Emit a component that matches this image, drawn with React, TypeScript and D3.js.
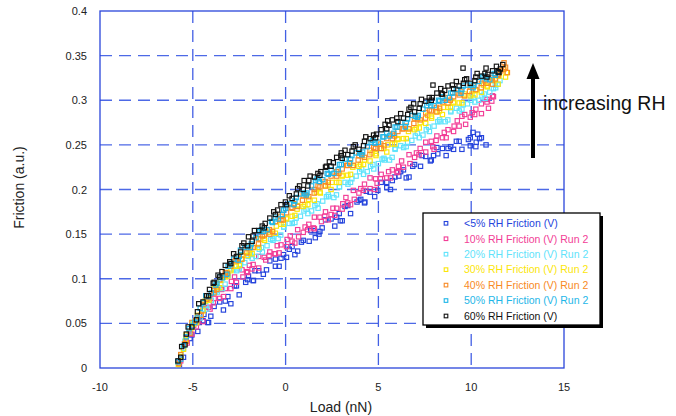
import React from 'react';
import * as d3 from 'd3';

// friction vs load, one array per humidity run: [load (nN), friction (a.u.)]
const rh05: number[][] = [
  [-5.72, .004], [-5.5, .012], [-5.15, .033], [-4.73, .041], [-4.65, .051], [-4.2, .051], [-4.03, .058], [-3.55, .074],
  [-3.35, .065], [-3.11, .080], [-2.65, .092], [-2.5, .082], [-2.15, .096], [-1.73, .098], [-1.65, .109], [-1.2, .105],
  [-1.03, .110], [-0.55, .122], [-0.35, .114], [-0.11, .127], [0.35, .136], [0.5, .127], [0.85, .141], [1.27, .142],
  [1.35, .154], [1.8, .150], [1.97, .157], [2.45, .167], [2.65, .159], [2.89, .173], [3.35, .182], [3.5, .173],
  [3.85, .186], [4.27, .186], [4.35, .198], [4.8, .192], [4.97, .199], [5.45, .208], [5.65, .200], [5.89, .214],
  [6.35, .222], [6.5, .213], [6.85, .226], [7.27, .226], [7.35, .238], [7.8, .232], [7.97, .238], [8.45, .246],
  [8.65, .238], [8.89, .248], [9.35, .254], [9.5, .245], [9.85, .256], [10.27, .253], [10.35, .262], [10.8, .250],
  [10.1, .264], [10.45, .257], [9.95, .249], [2.95, .165], [4.05, .189], [-2.0, .103], [-4.4, .060], [0.05, .124],
  [1.6, .146], [6.1, .215], [8.2, .240],
  [-5.05, .037], [-4.45, .053], [-3.85, .069], [-3.25, .075], [-2.75, .092], [-2.05, .099], [-1.45, .109], [-0.85, .120],
  [-0.25, .123], [0.2, .133], [0.95, .143], [1.55, .154], [2.15, .166], [2.75, .169], [3.2, .181], [3.95, .188],
  [4.55, .197], [5.15, .208], [5.75, .210], [6.2, .220], [6.95, .228], [7.55, .237], [8.15, .247], [8.75, .246],
  [9.2, .254], [9.95, .258], [10.55, .258], [-4.15, .051], [-2.95, .072], [-1.75, .098], [-0.55, .114], [0.65, .131],
  [1.85, .153], [3.05, .165], [4.25, .185], [5.45, .202], [6.65, .214], [7.85, .233], [9.05, .245], [10.25, .248],
];
const rh10: number[][] = [
  [-5.75, .006], [-5.3, .028], [-4.95, .048], [-4.81, .046], [-4.45, .065], [-4.07, .066], [-3.89, .073], [-3.45, .088],
  [-3.35, .080], [-2.92, .097], [-2.75, .102], [-2.3, .102], [-1.95, .115], [-1.81, .111], [-1.45, .125], [-1.07, .121],
  [-0.89, .126], [-0.45, .137], [-0.35, .129], [0.08, .144], [0.25, .148], [0.7, .147], [1.05, .158], [1.19, .155],
  [1.55, .169], [1.93, .164], [2.11, .170], [2.55, .179], [2.65, .171], [3.08, .184], [3.25, .191], [3.7, .189],
  [4.05, .201], [4.19, .199], [4.55, .213], [4.93, .207], [5.11, .212], [5.55, .220], [5.65, .213], [6.08, .226],
  [6.25, .232], [6.7, .229], [7.05, .241], [7.19, .239], [7.55, .253], [7.93, .248], [8.11, .255], [8.55, .264],
  [8.65, .258], [9.08, .271], [9.25, .277], [9.7, .273], [10.05, .286], [10.19, .284], [10.55, .296], [10.93, .291],
  [11.11, .299], [11.2, .304], [10.85, .301], [-0.6, .128], [0.5, .140], [1.5, .157], [3.5, .183], [6.0, .219],
  [8.0, .245], [4.8, .200], [-2.1, .108], [9.5, .282], [2.3, .166],
  [-5.65, .008], [-5.35, .034], [-5.05, .038], [-4.75, .051], [-4.45, .052], [-4.15, .068], [-3.85, .078], [-3.55, .078],
  [-3.25, .089], [-2.95, .089], [-2.65, .096], [-2.35, .110], [-2.05, .107], [-1.75, .116], [-1.45, .112], [-1.15, .124],
  [-0.85, .130], [-0.55, .128], [-0.25, .138], [0.05, .136], [0.35, .142], [0.65, .155], [0.95, .152], [1.25, .161],
  [1.55, .156], [1.85, .169], [2.15, .175], [2.45, .172], [2.75, .179], [3.05, .178], [3.35, .185], [3.65, .199],
  [3.95, .196], [4.25, .206], [4.55, .201], [4.85, .212], [5.15, .217], [5.45, .213], [5.75, .222], [6.05, .220],
  [6.35, .225], [6.65, .239], [6.95, .236], [7.25, .246], [7.55, .242], [7.85, .254], [8.15, .260], [8.45, .258],
  [8.75, .267], [9.05, .265], [9.35, .271], [9.65, .284], [9.95, .281], [10.25, .290], [10.55, .285], [10.85, .298],
  [11.15, .305],
];
const rh20: number[][] = [
  [-5.64, .015], [-5.43, .030], [-5.01, .050], [-4.8, .051], [-4.42, .066], [-4.25, .066], [-3.8, .085], [-3.68, .085],
  [-3.26, .094], [-3.1, .104], [-2.64, .109], [-2.43, .116], [-2.01, .125], [-1.8, .123], [-1.42, .133], [-1.25, .130],
  [-0.8, .144], [-0.68, .143], [-0.26, .149], [-0.1, .158], [0.36, .162], [0.57, .168], [0.99, .176], [1.2, .173],
  [1.58, .182], [1.75, .179], [2.2, .192], [2.32, .192], [2.74, .194], [2.9, .203], [3.36, .206], [3.57, .212],
  [3.99, .220], [4.2, .217], [4.58, .226], [4.75, .223], [5.2, .234], [5.32, .233], [5.74, .236], [5.9, .246],
  [6.36, .247], [6.57, .253], [6.99, .260], [7.2, .258], [7.58, .267], [7.75, .265], [8.2, .276], [8.32, .276],
  [8.74, .278], [8.9, .288], [9.36, .288], [9.57, .295], [9.99, .300], [10.2, .298], [10.58, .305], [10.75, .302],
  [11.2, .313], [11.32, .314], [11.55, .322], [11.45, .318],
  [-5.8, .007], [-5.5, .022], [-5.2, .039], [-4.9, .053], [-4.6, .056], [-4.3, .070], [-4.0, .076], [-3.7, .087],
  [-3.4, .089], [-3.1, .103], [-2.8, .110], [-2.5, .111], [-2.2, .118], [-1.9, .127], [-1.6, .125], [-1.3, .135],
  [-1.0, .137], [-0.7, .145], [-0.4, .145], [-0.1, .158], [0.2, .162], [0.5, .163], [0.8, .170], [1.1, .178],
  [1.4, .176], [1.7, .184], [2.0, .187], [2.3, .194], [2.6, .191], [2.9, .203], [3.2, .208], [3.5, .208],
  [3.8, .215], [4.1, .223], [4.4, .220], [4.7, .228], [5.0, .229], [5.3, .235], [5.6, .233], [5.9, .245],
  [6.2, .249], [6.5, .248], [6.8, .255], [7.1, .263], [7.4, .261], [7.7, .270], [8.0, .271], [8.3, .278],
  [8.6, .276], [8.9, .287], [9.2, .291], [9.5, .290], [9.8, .296], [10.1, .303], [10.4, .300], [10.7, .307],
  [11.0, .309], [11.3, .317],
];
const rh30: number[][] = [
  [-5.78, .004], [-5.5, .021], [-5.38, .032], [-4.96, .049], [-4.8, .051], [-4.34, .075], [-4.13, .076], [-3.71, .091],
  [-3.5, .098], [-3.12, .103], [-2.95, .109], [-2.5, .115], [-2.38, .122], [-1.96, .129], [-1.8, .128], [-1.34, .144],
  [-1.13, .143], [-0.71, .153], [-0.5, .159], [-0.12, .161], [0.05, .167], [0.5, .171], [0.62, .178], [1.04, .183],
  [1.2, .183], [1.66, .197], [1.87, .196], [2.29, .205], [2.5, .208], [2.88, .208], [3.05, .215], [3.5, .217],
  [3.62, .225], [4.04, .228], [4.2, .228], [4.66, .241], [4.87, .238], [5.29, .246], [5.5, .250], [5.88, .251],
  [6.05, .256], [6.5, .257], [6.62, .265], [7.04, .269], [7.2, .269], [7.66, .283], [7.87, .280], [8.29, .288],
  [8.5, .292], [8.88, .292], [9.05, .297], [9.5, .297], [9.62, .305], [10.04, .307], [10.2, .306], [10.66, .317],
  [10.87, .315], [11.29, .323], [11.5, .327], [11.9, .331], [11.75, .335], [11.85, .326],
  [-5.65, .013], [-5.35, .037], [-5.05, .045], [-4.75, .059], [-4.45, .064], [-4.15, .078], [-3.85, .089], [-3.55, .090],
  [-3.25, .102], [-2.95, .111], [-2.65, .114], [-2.35, .126], [-2.05, .126], [-1.75, .135], [-1.45, .135], [-1.15, .145],
  [-0.85, .152], [-0.55, .151], [-0.25, .161], [0.05, .168], [0.35, .170], [0.65, .182], [0.95, .181], [1.25, .189],
  [1.55, .188], [1.85, .197], [2.15, .204], [2.45, .200], [2.75, .208], [3.05, .216], [3.35, .216], [3.65, .227],
  [3.95, .226], [4.25, .233], [4.55, .232], [4.85, .240], [5.15, .246], [5.45, .242], [5.75, .251], [6.05, .257],
  [6.35, .257], [6.65, .268], [6.95, .267], [7.25, .275], [7.55, .274], [7.85, .282], [8.15, .287], [8.45, .284],
  [8.75, .292], [9.05, .298], [9.35, .297], [9.65, .307], [9.95, .305], [10.25, .311], [10.55, .309], [10.85, .316],
  [11.15, .322], [11.45, .318],
];
const rh40: number[][] = [
  [-5.75, .005], [-5.45, .027], [-5.15, .039], [-4.85, .053], [-4.55, .059], [-4.25, .077], [-3.87, .087], [-3.7, .088],
  [-3.25, .107], [-3.13, .106], [-2.71, .121], [-2.55, .124], [-2.09, .129], [-1.88, .135], [-1.46, .139], [-1.25, .148],
  [-0.87, .155], [-0.7, .153], [-0.25, .170], [-0.13, .166], [0.29, .180], [0.45, .184], [0.91, .188], [1.12, .193],
  [1.54, .196], [1.75, .204], [2.13, .209], [2.3, .208], [2.75, .220], [2.87, .218], [3.29, .227], [3.45, .230],
  [3.91, .233], [4.12, .238], [4.54, .239], [4.75, .247], [5.13, .251], [5.3, .249], [5.75, .262], [5.87, .260],
  [6.29, .268], [6.45, .271], [6.91, .274], [7.12, .279], [7.54, .280], [7.75, .289], [8.13, .292], [8.3, .291],
  [8.75, .303], [8.87, .300], [9.29, .308], [9.45, .310], [9.91, .310], [10.12, .316], [10.54, .314], [10.75, .322],
  [11.13, .325], [11.3, .324], [11.75, .335], [11.77, .342], [11.85, .337], [11.6, .333], [11.95, .331], [11.45, .328],
  [-5.65, .015], [-5.35, .030], [-5.05, .051], [-4.75, .056], [-4.45, .071], [-4.15, .079], [-3.85, .084], [-3.55, .099],
  [-3.25, .104], [-2.95, .114], [-2.65, .120], [-2.35, .122], [-2.05, .136], [-1.75, .135], [-1.45, .145], [-1.15, .149],
  [-0.85, .150], [-0.55, .164], [-0.25, .166], [0.05, .174], [0.35, .179], [0.65, .181], [0.95, .193], [1.25, .192],
  [1.55, .200], [1.85, .203], [2.15, .204], [2.45, .215], [2.75, .215], [3.05, .223], [3.35, .227], [3.65, .227],
  [3.95, .238], [4.25, .236], [4.55, .244], [4.85, .246], [5.15, .246], [5.45, .257], [5.75, .257], [6.05, .265],
  [6.35, .268], [6.65, .268], [6.95, .280], [7.25, .278], [7.55, .286], [7.85, .288], [8.15, .287], [8.45, .298],
  [8.75, .297], [9.05, .304], [9.35, .306], [9.65, .305], [9.95, .315], [10.25, .312], [10.55, .319], [10.85, .319],
  [11.15, .318], [11.45, .329],
];
const rh50: number[][] = [
  [-5.65, .010], [-5.35, .035], [-5.05, .047], [-4.75, .056], [-4.45, .073], [-4.15, .080], [-3.76, .093], [-3.55, .102],
  [-3.17, .105], [-3.0, .116], [-2.55, .121], [-2.43, .132], [-2.01, .137], [-1.85, .139], [-1.39, .153], [-1.18, .153],
  [-0.76, .164], [-0.55, .169], [-0.17, .172], [0.0, .179], [0.45, .183], [0.57, .191], [0.99, .196], [1.15, .196],
  [1.61, .210], [1.82, .209], [2.24, .218], [2.45, .222], [2.83, .222], [3.0, .228], [3.45, .229], [3.57, .238],
  [3.99, .241], [4.15, .242], [4.61, .253], [4.82, .252], [5.24, .259], [5.45, .263], [5.83, .263], [6.0, .270],
  [6.45, .270], [6.57, .279], [6.99, .282], [7.15, .283], [7.61, .294], [7.82, .294], [8.24, .300], [8.45, .304],
  [8.83, .303], [9.0, .308], [9.45, .308], [9.57, .316], [9.99, .317], [10.15, .317], [10.61, .326], [10.82, .324],
  [11.24, .330], [11.45, .332],
  [-5.8, .007], [-5.5, .025], [-5.2, .044], [-4.9, .051], [-4.6, .067], [-4.3, .081], [-4.0, .084], [-3.7, .095],
  [-3.4, .101], [-3.1, .114], [-2.8, .122], [-2.5, .125], [-2.2, .135], [-1.9, .135], [-1.6, .146], [-1.3, .155],
  [-1.0, .155], [-0.7, .163], [-0.4, .167], [-0.1, .177], [0.2, .184], [0.5, .187], [0.8, .195], [1.1, .194],
  [1.4, .204], [1.7, .212], [2.0, .211], [2.3, .217], [2.6, .218], [2.9, .228], [3.2, .234], [3.5, .234],
  [3.8, .241], [4.1, .239], [4.4, .248], [4.7, .255], [5.0, .253], [5.3, .259], [5.6, .260], [5.9, .270],
  [6.2, .275], [6.5, .275], [6.8, .283], [7.1, .281], [7.4, .290], [7.7, .297], [8.0, .294], [8.3, .299],
  [8.6, .300], [8.9, .308], [9.2, .312], [9.5, .312], [9.8, .317], [10.1, .314], [10.4, .321], [10.7, .327],
  [11.0, .323], [11.3, .328],
];
const rh60: number[][] = [
  [-5.8, .008], [-5.42, .026], [-5.25, .046], [-4.8, .054], [-4.68, .072], [-4.26, .081], [-4.1, .088], [-3.64, .104],
  [-3.43, .108], [-3.01, .119], [-2.8, .128], [-2.42, .130], [-2.25, .140], [-1.8, .142], [-1.68, .154], [-1.26, .159],
  [-1.1, .162], [-0.64, .175], [-0.43, .177], [-0.01, .186], [0.2, .193], [0.58, .195], [0.75, .204], [1.2, .204],
  [1.32, .215], [1.74, .218], [1.9, .220], [2.36, .231], [2.57, .230], [2.99, .238], [3.2, .244], [3.58, .243],
  [3.75, .250], [4.2, .249], [4.32, .259], [4.74, .261], [4.9, .262], [5.36, .273], [5.57, .272], [5.99, .280],
  [6.2, .285], [6.58, .284], [6.75, .292], [7.2, .291], [7.32, .301], [7.74, .303], [7.9, .303], [8.36, .313],
  [8.57, .311], [8.99, .317], [9.2, .321], [9.58, .319], [9.75, .324], [10.2, .322], [10.32, .330], [10.74, .330],
  [10.9, .329], [11.36, .338], [11.57, .335], [7.94, .317], [9.56, .336], [10.8, .336], [11.7, .340], [11.5, .331],
  [-2.0, .147], [1.0, .210], [3.0, .241], [5.5, .277], [-3.9, .095], [-5.6, .024], [8.4, .307], [6.9, .296], [2.2, .226],
  [-5.65, .012], [-5.35, .038], [-5.05, .046], [-4.75, .063], [-4.45, .074], [-4.15, .081], [-3.85, .096], [-3.55, .102],
  [-3.25, .115], [-2.95, .117], [-2.65, .125], [-2.35, .137], [-2.05, .137], [-1.75, .148], [-1.45, .154], [-1.15, .157],
  [-0.85, .168], [-0.55, .172], [-0.25, .183], [0.05, .183], [0.35, .190], [0.65, .201], [0.95, .200], [1.25, .210],
  [1.55, .214], [1.85, .216], [2.15, .225], [2.45, .226], [2.75, .236], [3.05, .235], [3.35, .239], [3.65, .248],
  [3.95, .245], [4.25, .254], [4.55, .257], [4.85, .258], [5.15, .267], [5.45, .268], [5.75, .278], [6.05, .276],
  [6.35, .280], [6.65, .290], [6.95, .287], [7.25, .296], [7.55, .299], [7.85, .300], [8.15, .308], [8.45, .307],
  [8.75, .316], [9.05, .313], [9.35, .316], [9.65, .323], [9.95, .319], [10.25, .326], [10.55, .327], [10.85, .326],
  [11.15, .333], [11.45, .332],
];

const seriesNames = [
  '<5% RH Friction (V)',
  '10% RH Friction (V) Run 2',
  '20% RH Friction (V) Run 2',
  '30% RH Friction (V) Run 2',
  '40% RH Friction (V) Run 2',
  '50% RH Friction (V) Run 2',
  '60% RH Friction (V)',
];
const seriesData = [rh05, rh10, rh20, rh30, rh40, rh50, rh60];
const seriesColors = ['#2443dc', '#f23d96', '#5fe3fb', '#fbe60a', '#f88a25', '#1eb6e8', '#111111'];

const xTicks = [-10, -5, 0, 5, 10, 15];
const yTicks = [0, 0.05, 0.1, 0.15, 0.2, 0.25, 0.3, 0.35, 0.4];
const yTickLabels = ['0', '0.05', '0.1', '0.15', '0.2', '0.25', '0.3', '0.35', '0.4'];

const W = 676;
const H = 416;
const font = 'Arial, "Liberation Sans", Helvetica, sans-serif';
const gridColor = '#2f4fe2';

export default function App() {
  const x = d3.scaleLinear().domain([-10, 15]).range([100, 564]);
  const y = d3.scaleLinear().domain([0, 0.4]).range([368, 11]);
  const ms = 4.3; // marker size

  const legX = 423, legY = 213, legW = 177, legH = 112, rowH = 15.45;

  return (
    <svg width={W} height={H} style={{ position: 'absolute', left: 0, top: 0 }} fontFamily={font}>
      <rect width={W} height={H} fill="#fff" />

      {/* grid */}
      {yTicks.slice(1, -1).map((t) => (
        <line key={'h' + t} x1={x(-10)} x2={x(15)} y1={y(t)} y2={y(t)}
          stroke={gridColor} strokeWidth={1.3} strokeDasharray="12,7" opacity={0.85} />
      ))}
      {xTicks.slice(1, -1).map((t) => (
        <line key={'v' + t} x1={x(t)} x2={x(t)} y1={y(0.4)} y2={y(0)}
          stroke={gridColor} strokeWidth={1.3} strokeDasharray="12,7" opacity={0.9} />
      ))}
      <rect x={x(-10)} y={y(0.4)} width={x(15) - x(-10)} height={y(0) - y(0.4)}
        fill="none" stroke="#2a45da" strokeWidth={1.3} />

      {/* points */}
      {seriesData.map((pts, si) => (
        <g key={si} stroke={seriesColors[si]} fill="none" strokeWidth={1.15}>
          {pts.map((p, i) => (
            <rect key={i} x={x(p[0]) - ms / 2} y={y(p[1]) - ms / 2} width={ms} height={ms} />
          ))}
        </g>
      ))}

      {/* tick labels */}
      {yTicks.map((t, i) => (
        <text key={'yl' + t} x={87} y={y(t) + 4} textAnchor="end" fontSize={11} fill="#222">
          {yTickLabels[i]}
        </text>
      ))}
      {xTicks.map((t) => (
        <text key={'xl' + t} x={x(t)} y={391} textAnchor="middle" fontSize={11} fill="#222">
          {t}
        </text>
      ))}
      <text x={341} y={412} textAnchor="middle" fontSize={14} fill="#222">Load (nN)</text>
      <text transform="translate(23.5,187.5) rotate(-90)" textAnchor="middle" fontSize={14} fill="#222">
        Friction (a.u.)
      </text>

      {/* legend */}
      <rect x={legX + 3} y={legY + 3} width={legW} height={legH} fill="#000" />
      <rect x={legX} y={legY} width={legW} height={legH} fill="#fff" stroke="#000" strokeWidth={1.3} />
      {seriesNames.map((n, i) => (
        <g key={n}>
          <rect x={446 - 1.8} y={legY + 10.3 + i * rowH - 1.8} width={3.6} height={3.6}
            fill="none" stroke={seriesColors[i]} strokeWidth={1.1} />
          <text x={464} y={legY + 10.3 + i * rowH + 3.8} fontSize={10.5} fill={seriesColors[i]}>{n}</text>
        </g>
      ))}

      {/* arrow annotation */}
      <line x1={533} x2={533} y1={158} y2={74} stroke="#000" strokeWidth={4} />
      <path d="M533,63 L539.5,79 L526.5,79 Z" fill="#000" />
      <text x={543} y={110} fontSize={19.5} fill="#111">increasing RH</text>
    </svg>
  );
}
